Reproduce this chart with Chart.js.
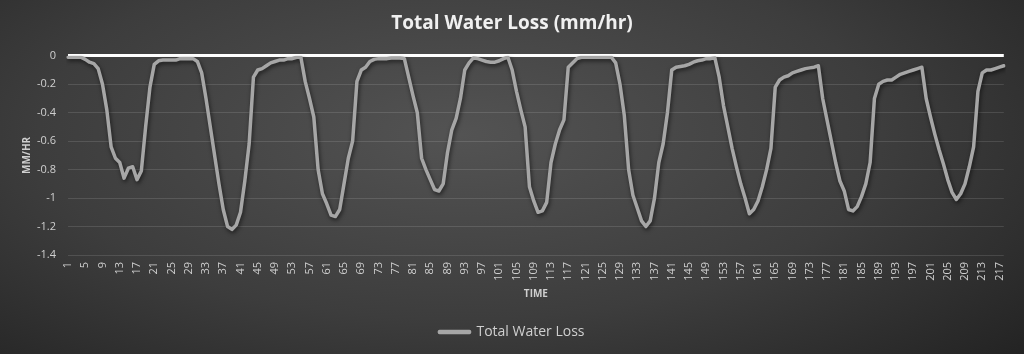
<!DOCTYPE html>
<html>
<head>
<meta charset="utf-8">
<script src="https://cdn.jsdelivr.net/npm/chart.js@4.4.0/dist/chart.umd.min.js"></script>
<style>
html, body { margin: 0; padding: 0; }
body {
    width: 1024px; height: 354px; overflow: hidden;
    background: radial-gradient(ellipse 75% 95% at 45% 38%, #535353 0%, #3d3d3d 55%, #222222 100%);
}
canvas { display: block; }
</style>
</head>
<body>
<canvas id="lossChart" width="1024" height="354"></canvas>
<script>
// hourly total water loss (mm/hr), one array per day
const lossDay1 = [-0.01, -0.01, -0.01, -0.01, -0.025, -0.045, -0.055, -0.09, -0.2, -0.38, -0.64, -0.72,
    -0.75, -0.86, -0.79, -0.78, -0.87, -0.81, -0.5, -0.22, -0.06, -0.035, -0.03, -0.03];
const lossDay2 = [-0.03, -0.03, -0.02, -0.02, -0.02, -0.02, -0.04, -0.12, -0.3, -0.5, -0.7, -0.9,
    -1.08, -1.2, -1.22, -1.19, -1.1, -0.88, -0.62, -0.15, -0.1, -0.09, -0.07, -0.05];
const lossDay3 = [-0.04, -0.03, -0.03, -0.02, -0.02, -0.01, -0.01, -0.18, -0.3, -0.43, -0.8, -0.97,
    -1.04, -1.12, -1.13, -1.08, -0.9, -0.72, -0.6, -0.18, -0.1, -0.08, -0.04, -0.025];
const lossDay4 = [-0.02, -0.02, -0.02, -0.015, -0.015, -0.015, -0.02, -0.15, -0.28, -0.4, -0.72, -0.8,
    -0.87, -0.94, -0.95, -0.9, -0.68, -0.52, -0.44, -0.3, -0.1, -0.05, -0.015, -0.02];
const lossDay5 = [-0.03, -0.04, -0.045, -0.045, -0.035, -0.02, -0.01, -0.1, -0.25, -0.38, -0.5, -0.92,
    -1.02, -1.1, -1.09, -1.03, -0.75, -0.62, -0.52, -0.45, -0.08, -0.05, -0.02, -0.01];
const lossDay6 = [-0.01, -0.01, -0.01, -0.01, -0.01, -0.01, -0.01, -0.05, -0.2, -0.42, -0.8, -0.98,
    -1.07, -1.16, -1.2, -1.16, -1.0, -0.75, -0.62, -0.4, -0.1, -0.08, -0.075, -0.07];
const lossDay7 = [-0.06, -0.045, -0.035, -0.03, -0.02, -0.02, -0.015, -0.15, -0.35, -0.5, -0.65, -0.78,
    -0.9, -1.0, -1.11, -1.08, -1.02, -0.92, -0.8, -0.65, -0.22, -0.17, -0.15, -0.14];
const lossDay8 = [-0.12, -0.11, -0.1, -0.09, -0.085, -0.08, -0.07, -0.3, -0.45, -0.6, -0.75, -0.88,
    -0.95, -1.08, -1.09, -1.06, -0.99, -0.9, -0.75, -0.3, -0.2, -0.18, -0.17, -0.17];
const lossDay9 = [-0.15, -0.13, -0.12, -0.11, -0.1, -0.09, -0.08, -0.3, -0.43, -0.55, -0.66, -0.76,
    -0.87, -0.96, -1.01, -0.97, -0.9, -0.78, -0.64, -0.25, -0.12, -0.1, -0.1, -0.09];
const lossDay10 = [-0.08, -0.07];

const totalLoss = [].concat(lossDay1, lossDay2, lossDay3, lossDay4, lossDay5,
    lossDay6, lossDay7, lossDay8, lossDay9, lossDay10);
const timeLabels = totalLoss.map((v, i) => String(i + 1));
const labelEvery = 4;

const fontName = "'Open Sans', 'Liberation Sans', sans-serif";
const textGrey = '#cfcfcf';
const lineGrey = '#a6a6a6';

// soft drop shadow under the line, like the office style
const lineShadow = {
    id: 'lineShadow',
    beforeDatasetDraw(chart) {
        const c = chart.ctx;
        c.save();
        c.shadowColor = 'rgba(0,0,0,0.6)';
        c.shadowBlur = 4;
        c.shadowOffsetX = 1;
        c.shadowOffsetY = 2;
    },
    afterDatasetDraw(chart) {
        chart.ctx.restore();
    }
};

const ctx = document.getElementById('lossChart').getContext('2d');
new Chart(ctx, {
    type: 'line',
    data: {
        labels: timeLabels,
        datasets: [{
            label: 'Total Water Loss',
            data: totalLoss,
            borderColor: lineGrey,
            backgroundColor: lineGrey,
            borderWidth: 3.5,
            pointRadius: 0,
            tension: 0,
            fill: false,
            borderJoinStyle: 'round',
            borderCapStyle: 'round'
        }]
    },
    options: {
        responsive: false,
        animation: false,
        devicePixelRatio: 1,
        layout: { padding: { top: 3, right: 16, bottom: 5, left: 16 } },
        plugins: {
            title: {
                display: true,
                text: 'Total Water Loss (mm/hr)',
                color: '#f0f0f0',
                font: { family: fontName, size: 19, weight: 'bold' },
                padding: { top: 9, bottom: 21 }
            },
            legend: {
                position: 'bottom',
                labels: {
                    color: textGrey,
                    font: { family: fontName, size: 14 },
                    boxWidth: 30,
                    boxHeight: 1,
                    padding: 24
                }
            },
            tooltip: { enabled: false }
        },
        scales: {
            x: {
                ticks: {
                    autoSkip: false,
                    minRotation: 90,
                    maxRotation: 90,
                    color: textGrey,
                    font: { family: fontName, size: 11 },
                    padding: 7,
                    callback(v, i) {
                        return i % labelEvery === 0 ? this.getLabelForValue(v) : '';
                    }
                },
                grid: { display: false, drawTicks: false },
                border: { display: false },
                title: {
                    display: true,
                    text: 'TIME',
                    color: textGrey,
                    font: { family: fontName, size: 10, weight: 'bold' },
                    padding: { top: 0, bottom: 1 }
                },
                afterFit(scale) { scale.height = 46; }
            },
            y: {
                min: -1.4,
                max: 0,
                ticks: {
                    stepSize: 0.2,
                    color: textGrey,
                    font: { family: fontName, size: 11 },
                    padding: 12,
                    callback: v => String(Math.round(v * 10) / 10)
                },
                grid: {
                    drawTicks: false,
                    color: c => (c.tick && c.tick.value === 0) ? '#ffffff' : 'rgba(255,255,255,0.12)',
                    lineWidth: c => (c.tick && c.tick.value === 0) ? 3 : 1
                },
                border: { display: false },
                title: {
                    display: true,
                    text: 'MM/HR',
                    color: textGrey,
                    font: { family: fontName, size: 10, weight: 'bold' },
                    padding: { top: 5, bottom: 0 }
                },
                afterFit(scale) { scale.width = 52; }
            }
        }
    },
    plugins: [lineShadow]
});
</script>
</body>
</html>
